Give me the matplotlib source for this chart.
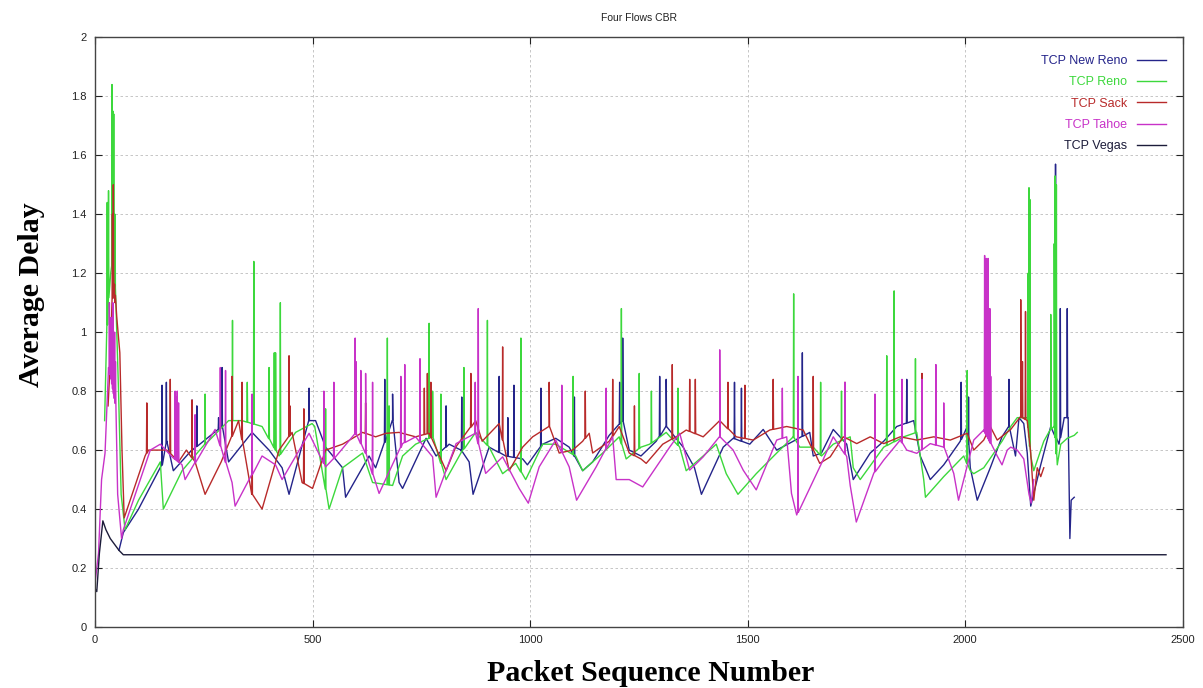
import numpy as np
import matplotlib
matplotlib.use("Agg")
import matplotlib.pyplot as plt

# average delay per packet for each TCP variant (base trace + short spikes)
newreno_x = [55, 65, 100, 154, 165, 180, 223, 292, 307, 361, 400, 430, 446, 492, 507, 530, 569, 576, 630, 645,
             684, 699, 707, 761, 784, 814, 841, 860, 869, 906, 944, 983, 994, 1029, 1059, 1090, 1121, 1144, 1182,
             1213, 1228, 1255, 1290, 1313, 1352, 1378, 1394, 1444, 1467, 1505, 1536, 1567, 1605, 1643, 1651, 1670,
             1697, 1728, 1743, 1782, 1813, 1843, 1882, 1897, 1920, 1951, 1989, 2005, 2012, 2028, 2058, 2085, 2101,
             2116, 2124, 2135, 2143, 2151, 2174, 2197, 2216, 2228, 2237, 2241, 2244, 2251]
newreno_y = [0.26, 0.32, 0.40, 0.55, 0.63, 0.53, 0.60, 0.68, 0.56, 0.66, 0.60, 0.54, 0.45, 0.70, 0.70, 0.61, 0.54,
             0.44, 0.58, 0.54, 0.70, 0.49, 0.47, 0.64, 0.58, 0.62, 0.60, 0.56, 0.45, 0.61, 0.58, 0.57, 0.55, 0.62,
             0.64, 0.61, 0.53, 0.56, 0.65, 0.70, 0.60, 0.58, 0.63, 0.68, 0.61, 0.54, 0.45, 0.61, 0.64, 0.62, 0.67,
             0.60, 0.63, 0.66, 0.58, 0.59, 0.67, 0.62, 0.50, 0.59, 0.63, 0.68, 0.70, 0.58, 0.50, 0.55, 0.63, 0.68,
             0.54, 0.43, 0.54, 0.645, 0.68, 0.58, 0.71, 0.69, 0.59, 0.41, 0.55, 0.68, 0.62, 0.71, 0.71, 0.30, 0.43,
             0.44]
newreno_spike_x = [154, 164, 223, 234, 284, 292, 492, 666, 684, 807, 843, 929, 949, 963, 1025, 1102, 1206, 1213,
                   1298, 1313, 1470, 1486, 1626, 1866, 1991, 2008, 2101, 2208, 2219, 2235]
newreno_spike_y = [0.82, 0.83, 0.77, 0.75, 0.71, 0.88, 0.81, 0.84, 0.79, 0.75, 0.78, 0.85, 0.71, 0.82, 0.81, 0.78,
                   0.83, 0.98, 0.85, 0.84, 0.83, 0.81, 0.93, 0.84, 0.83, 0.78, 0.84, 1.57, 1.08, 1.08]

reno_x = [22, 26, 30, 36, 42, 48, 54, 60, 69, 100, 150, 157, 200, 253, 307, 338, 384, 415, 423, 461, 499, 505, 538,
          569, 615, 638, 684, 707, 737, 776, 807, 841, 875, 906, 937, 967, 990, 1029, 1059, 1105, 1121, 1167, 1205,
          1221, 1255, 1275, 1313, 1344, 1359, 1398, 1428, 1451, 1478, 1520, 1567, 1605, 1620, 1651, 1670, 1697,
          1736, 1743, 1759, 1813, 1859, 1889, 1905, 1909, 1951, 1997, 2012, 2020, 2043, 2085, 2105, 2120, 2143,
          2151, 2158, 2181, 2197, 2205, 2212, 2220, 2235, 2251, 2258]
reno_y = [0.70, 0.95, 1.10, 1.20, 1.25, 1.10, 0.80, 0.45, 0.33, 0.43, 0.56, 0.40, 0.53, 0.62, 0.70, 0.70, 0.68, 0.60,
          0.58, 0.66, 0.69, 0.68, 0.40, 0.54, 0.59, 0.49, 0.48, 0.58, 0.62, 0.645, 0.50, 0.59, 0.66, 0.61, 0.52,
          0.555, 0.50, 0.62, 0.62, 0.58, 0.53, 0.59, 0.645, 0.57, 0.61, 0.62, 0.66, 0.61, 0.53, 0.58, 0.62, 0.52,
          0.45, 0.52, 0.59, 0.645, 0.61, 0.61, 0.58, 0.62, 0.645, 0.54, 0.50, 0.61, 0.645, 0.66, 0.50, 0.44, 0.51,
          0.58, 0.53, 0.52, 0.54, 0.63, 0.68, 0.71, 0.71, 0.58, 0.53, 0.63, 0.67, 0.68, 0.55, 0.62, 0.64, 0.65, 0.66]
reno_spike_x = [28, 31, 39, 41, 43, 46, 253, 316, 350, 365, 400, 412, 415, 426, 530, 672, 676, 768, 776, 795, 848,
                902, 979, 1099, 1210, 1251, 1279, 1340, 1606, 1668, 1716, 1820, 1837, 1886, 2005, 2145, 2147, 2149,
                2197, 2205, 2207, 2210]
reno_spike_y = [1.44, 1.48, 1.84, 1.75, 1.74, 1.40, 0.79, 1.04, 0.83, 1.24, 0.88, 0.93, 0.93, 1.10, 0.74, 0.98,
                0.75, 1.03, 0.80, 0.79, 0.88, 1.04, 0.98, 0.85, 1.08, 0.86, 0.80, 0.81, 1.13, 0.83, 0.80, 0.92, 1.14,
                0.91, 0.87, 1.20, 1.49, 1.45, 1.06, 1.30, 1.53, 1.50]

sack_x = [30, 35, 42, 50, 57, 62, 67, 115, 123, 165, 192, 210, 230, 253, 290, 330, 361, 384, 423, 453, 476, 500,
          530, 569, 615, 645, 669, 699, 737, 768, 807, 829, 875, 890, 929, 952, 983, 1006, 1044, 1067, 1098, 1121,
          1136, 1144, 1182, 1205, 1228, 1255, 1267, 1305, 1336, 1359, 1398, 1436, 1474, 1513, 1551, 1590, 1628,
          1666, 1690, 1720, 1751, 1782, 1813, 1851, 1889, 1928, 1966, 2005, 2020, 2043, 2058, 2074, 2105, 2128,
          2143, 2151, 2158, 2166, 2174, 2181]
sack_y = [0.75, 0.90, 1.20, 1.05, 0.93, 0.60, 0.37, 0.58, 0.60, 0.60, 0.56, 0.60, 0.56, 0.45, 0.56, 0.70, 0.45,
          0.40, 0.60, 0.66, 0.49, 0.47, 0.60, 0.62, 0.66, 0.645, 0.657, 0.66, 0.645, 0.657, 0.53, 0.61, 0.70, 0.63,
          0.69, 0.53, 0.61, 0.645, 0.68, 0.59, 0.60, 0.63, 0.657, 0.59, 0.63, 0.68, 0.59, 0.57, 0.555, 0.62, 0.645,
          0.668, 0.645, 0.70, 0.645, 0.634, 0.668, 0.68, 0.668, 0.555, 0.577, 0.645, 0.622, 0.645, 0.622, 0.645,
          0.634, 0.645, 0.634, 0.657, 0.60, 0.634, 0.68, 0.634, 0.67, 0.713, 0.70, 0.59, 0.43, 0.54, 0.51, 0.54]
sack_spike_x = [40, 42, 44, 46, 119, 173, 223, 315, 338, 361, 446, 448, 480, 622, 757, 764, 772, 864, 937, 1044,
                1127, 1190, 1240, 1327, 1367, 1380, 1455, 1494, 1559, 1651, 1724, 1901, 2128, 2132, 2139]
sack_spike_y = [1.40, 1.50, 1.14, 1.10, 0.76, 0.84, 0.77, 0.85, 0.83, 0.72, 0.92, 0.75, 0.74, 0.76, 0.81, 0.86,
                0.83, 0.86, 0.95, 0.83, 0.80, 0.84, 0.75, 0.89, 0.84, 0.84, 0.83, 0.82, 0.84, 0.85, 0.83, 0.86,
                1.11, 0.90, 1.07]

tahoe_x = [0, 8, 15, 23, 31, 36, 42, 48, 52, 61, 65, 127, 150, 175, 200, 207, 276, 315, 322, 384, 415, 430, 492,
           530, 553, 599, 622, 653, 707, 737, 776, 784, 830, 875, 898, 937, 975, 996, 1021, 1059, 1090, 1107, 1152,
           1190, 1198, 1228, 1259, 1321, 1344, 1367, 1398, 1436, 1467, 1490, 1520, 1567, 1590, 1601, 1613, 1670,
           1697, 1728, 1736, 1750, 1790, 1813, 1851, 1866, 1889, 1920, 1951, 1974, 1985, 2020, 2043, 2074, 2085,
           2097, 2105, 2120, 2135, 2147, 2152, 2158]
tahoe_y = [0.15, 0.25, 0.50, 0.59, 0.88, 0.85, 0.80, 0.75, 0.45, 0.30, 0.33, 0.60, 0.62, 0.58, 0.55, 0.50, 0.67,
           0.49, 0.41, 0.58, 0.55, 0.50, 0.657, 0.543, 0.577, 0.657, 0.59, 0.453, 0.622, 0.645, 0.577, 0.44, 0.622,
           0.657, 0.521, 0.577, 0.47, 0.42, 0.543, 0.634, 0.543, 0.43, 0.543, 0.645, 0.50, 0.50, 0.475, 0.61, 0.657,
           0.532, 0.577, 0.645, 0.60, 0.532, 0.465, 0.634, 0.645, 0.453, 0.38, 0.555, 0.645, 0.578, 0.48, 0.356,
           0.521, 0.566, 0.634, 0.60, 0.589, 0.622, 0.61, 0.521, 0.43, 0.634, 0.668, 0.58, 0.55, 0.60, 0.61, 0.60,
           0.57, 0.45, 0.42, 0.50]
tahoe_spike_x = [33, 35, 37, 39, 41, 43, 45, 47, 184, 186, 189, 192, 230, 288, 300, 361, 526, 549, 598, 600, 611,
                 622, 638, 703, 712, 747, 874, 881, 1073, 1175, 1436, 1580, 1616, 1724, 1793, 1855, 1901, 1933, 1951,
                 2045, 2047, 2049, 2051, 2053, 2055, 2057, 2059]
tahoe_spike_y = [1.10, 0.95, 1.05, 0.90, 1.10, 0.95, 1.00, 0.90, 0.80, 0.78, 0.80, 0.76, 0.72, 0.88, 0.87, 0.79,
                 0.80, 0.83, 0.98, 0.90, 0.87, 0.86, 0.83, 0.85, 0.89, 0.91, 0.83, 1.08, 0.82, 0.81, 0.94, 0.81,
                 0.85, 0.83, 0.79, 0.84, 0.84, 0.89, 0.76, 1.26, 1.00, 1.25, 1.00, 1.25, 0.98, 1.08, 0.85]

vegas_x = [0, 4, 10, 18, 25, 35, 45, 55, 65, 2462]
vegas_y = [0.13, 0.12, 0.25, 0.36, 0.33, 0.30, 0.28, 0.26, 0.245, 0.245]


def with_spikes(bx, by, sx, sy, half=0.8):
    """Insert narrow spikes into a base trace, rising from the base value."""
    bx = np.asarray(bx, float)
    by = np.asarray(by, float)
    x = list(bx)
    y = list(by)
    for s, p in zip(sx, sy):
        b = np.interp(s, bx, by)
        x += [s - half, s, s + half]
        y += [b, p, b]
    order = np.argsort(x, kind="stable")
    return np.array(x)[order], np.array(y)[order]


series = [
    ("TCP New Reno", "#24248a", newreno_x, newreno_y, newreno_spike_x, newreno_spike_y),
    ("TCP Reno", "#3cd83c", reno_x, reno_y, reno_spike_x, reno_spike_y),
    ("TCP Sack", "#b82a2a", sack_x, sack_y, sack_spike_x, sack_spike_y),
    ("TCP Tahoe", "#c832c8", tahoe_x, tahoe_y, tahoe_spike_x, tahoe_spike_y),
    ("TCP Vegas", "#1c1c3a", vegas_x, vegas_y, [], []),
]

plt.rcParams["font.family"] = ["Liberation Sans", "DejaVu Sans"]

fig = plt.figure(figsize=(12.03, 6.88), dpi=100)
ax = fig.add_axes([0.079, 0.0887, 0.904, 0.857])

for name, color, bx, by, sx, sy in series:
    x, y = with_spikes(bx, by, sx, sy)
    ax.plot(x, y, color=color, lw=1.0, label=name)

ax.set_xlim(0, 2500)
ax.set_ylim(0, 2)
ax.set_xticks(np.arange(0, 2501, 500))
ax.set_yticks(np.arange(0, 2.01, 0.2))
ax.set_yticklabels(["0", "0.2", "0.4", "0.6", "0.8", "1", "1.2", "1.4", "1.6", "1.8", "2"])
ax.tick_params(direction="in", top=True, right=True, length=5, width=0.8, labelsize=8, colors="#222222", pad=6)
ax.grid(True, color="#bdbdbd", linestyle=(0, (3, 3)), linewidth=0.6)
for sp in ax.spines.values():
    sp.set_color("#444444")
    sp.set_linewidth(1.0)

ax.set_title("Four Flows CBR", fontsize=7.5, pad=12, color="#222222")
ax.set_xlabel("Packet Sequence Number", family="Liberation Serif", fontweight="bold", fontsize=21.5)
ax.set_ylabel("Average Delay", family="Liberation Serif", fontweight="bold", fontsize=21.5)
ax.xaxis.set_label_coords(0.511, -0.056)
ax.yaxis.set_label_coords(-0.046, 0.563)

leg = ax.legend(loc="upper right", frameon=False, markerfirst=False, labelcolor="linecolor", fontsize=9,
                handlelength=2.3, labelspacing=0.75, bbox_to_anchor=(0.993, 0.985), borderaxespad=0.3)

fig.savefig("out.png", dpi=100)
